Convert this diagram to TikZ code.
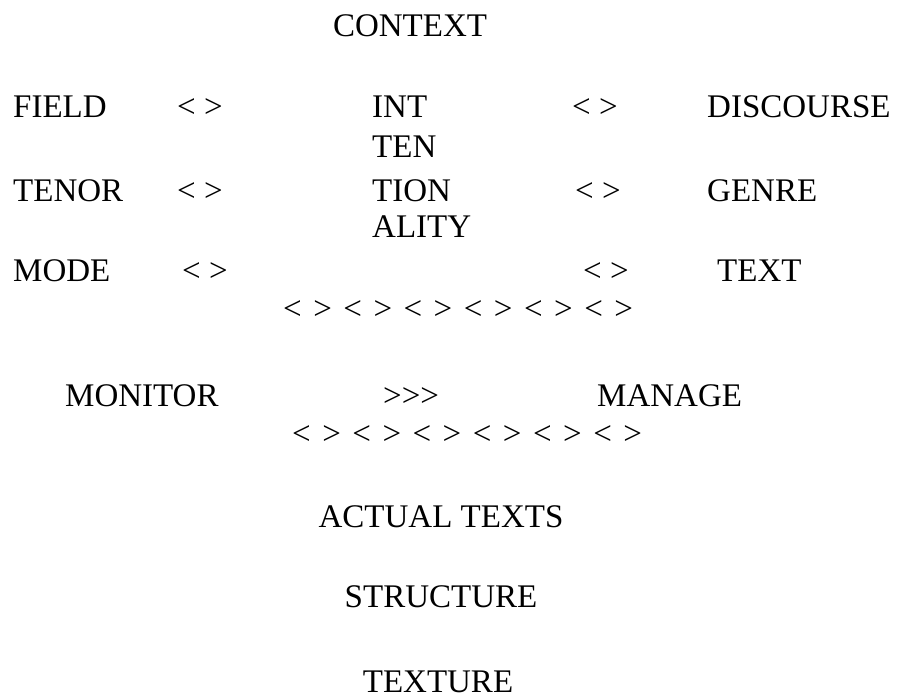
\documentclass[tikz,border=0pt]{standalone}
\usepackage{fontspec}
\setmainfont{Liberation Serif}
\newcommand\chsp{\hspace{11.5pt}}
\newcommand\chevrow{<\chsp>\chsp<\chsp>\chsp<\chsp>\chsp<\chsp>\chsp<\chsp>\chsp<\chsp>}
\begin{document}
\begin{tikzpicture}[x=1pt,y=-1pt,
  lbl/.style={anchor=base west, inner sep=0pt, font=\fontsize{33}{40}\selectfont},
  ctr/.style={anchor=base, inner sep=0pt, font=\fontsize{33}{40}\selectfont}]
\useasboundingbox (0,0) rectangle (898,700);
\fill[white] (0,0) rectangle (898,700);
\node[ctr] (context) at (410,37) {CONTEXT};
% row 1
\node[lbl] (field) at (13,118) {FIELD};
\node[lbl] (fa) at (177,118) {< >};
\node[lbl] (int) at (372,118) {INT};
\node[lbl] (fb) at (572,118) {< >};
\node[lbl] (discourse) at (707,118) {DISCOURSE};
\node[lbl] (ten) at (372,158) {TEN};
% row 2
\node[lbl] (tenor) at (13,202) {TENOR};
\node[lbl] (ta) at (177,202) {< >};
\node[lbl] (tion) at (372,202) {TION};
\node[lbl] (tb) at (575,202) {< >};
\node[lbl] (genre) at (707,202) {GENRE};
\node[lbl] (ality) at (372,238) {ALITY};
% row 3
\node[lbl] (mode) at (13,282) {MODE};
\node[lbl] (ma) at (182,282) {< >};
\node[lbl] (mb) at (583,282) {< >};
\node[lbl] (text) at (717,282) {TEXT};
\node[lbl] (chev1) at (283,320) {\chevrow};
% monitor
\node[lbl] (monitor) at (65,407) {MONITOR};
\node[lbl] (arrows) at (383,407) {>\kern0pt>\kern0pt>};
\node[lbl] (manage) at (597,407) {MANAGE};
\node[lbl] (chev2) at (292,445) {\chevrow};
% bottom
\node[ctr] (actual) at (441,528) {ACTUAL TEXTS};
\node[ctr] (structure) at (441,608) {STRUCTURE};
\node[ctr] (texture) at (438,692) {TEXTURE};
\end{tikzpicture}
\end{document}
